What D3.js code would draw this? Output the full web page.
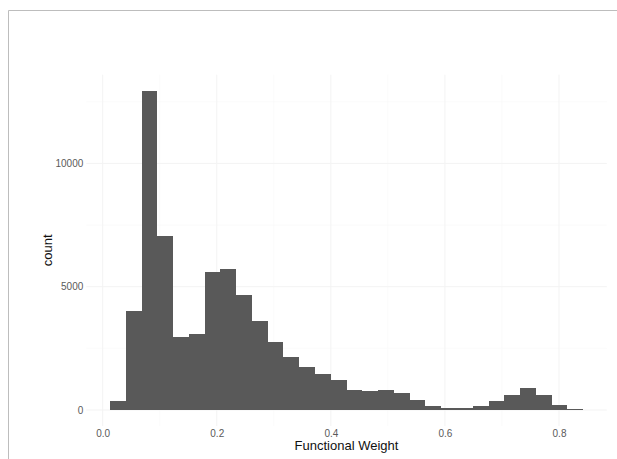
<!DOCTYPE html>
<html lang="en">
<head>
    <meta charset="UTF-8">
    <title>Functional Weight histogram</title>
    <script src="https://d3js.org/d3.v7.min.js"></script>
    <style>
        body { margin: 0; background: #fff; font-family: "Liberation Sans", Arial, sans-serif; }
        svg { display: block; }
        .tick text { fill: #5a5a5a; font-size: 10px; }
        .title { fill: #111; font-size: 13px; }
    </style>
</head>
<body>
    <svg id="chart"></svg>
    <script>
        // histogram: 30 bins, left edge of first bin + bin width
        const binStart = 0.0128;
        const binWidth = 0.02765;
        const counts = [370, 4000, 12950, 7060, 2980, 3090, 5580, 5700, 4680, 3600,
                        2750, 2160, 1730, 1460, 1210, 800, 780, 800, 690, 410,
                        160, 90, 90, 180, 370, 600, 890, 610, 200, 30];
        const xMajor = [0, 0.2, 0.4, 0.6, 0.8];
        const xMinor = [0.1, 0.3, 0.5, 0.7];
        const yMajor = [0, 5000, 10000];
        const yMinor = [2500, 7500, 12500];

        const width = 617, height = 459;
        const svg = d3.select("#chart").attr("width", width).attr("height", height);

        // outer frame (top and left edges only)
        svg.append("path")
            .attr("d", `M8.5,${height}V10.5H${width}`)
            .attr("fill", "none")
            .attr("stroke", "#bdbdbd");

        const bins = counts.map((c, i) => ({
            x0: binStart + i * binWidth,
            x1: binStart + (i + 1) * binWidth,
            count: c
        }));

        const xLo = bins[0].x0, xHi = bins[bins.length - 1].x1;
        const xPad = (xHi - xLo) * 0.05;
        const yMax = d3.max(counts);

        const x = d3.scaleLinear()
            .domain([xLo - xPad, xHi + xPad])
            .range([86.3, 606.8]);
        const y = d3.scaleLinear()
            .domain([-yMax * 0.05, yMax * 1.05])
            .range([426, 74.7]);

        const g = svg.append("g");

        // grid
        g.selectAll(".vminor").data(xMinor).enter().append("line")
            .attr("x1", d => x(d)).attr("x2", d => x(d))
            .attr("y1", y.range()[0]).attr("y2", y.range()[1])
            .attr("stroke", "#f8f8f8").attr("stroke-width", 0.6);
        g.selectAll(".hminor").data(yMinor).enter().append("line")
            .attr("y1", d => y(d)).attr("y2", d => y(d))
            .attr("x1", x.range()[0]).attr("x2", x.range()[1])
            .attr("stroke", "#f8f8f8").attr("stroke-width", 0.6);
        g.selectAll(".vmajor").data(xMajor).enter().append("line")
            .attr("x1", d => x(d)).attr("x2", d => x(d))
            .attr("y1", y.range()[0]).attr("y2", y.range()[1])
            .attr("stroke", "#f3f3f3").attr("stroke-width", 1);
        g.selectAll(".hmajor").data(yMajor).enter().append("line")
            .attr("y1", d => y(d)).attr("y2", d => y(d))
            .attr("x1", x.range()[0]).attr("x2", x.range()[1])
            .attr("stroke", "#f3f3f3").attr("stroke-width", 1);

        // bars
        g.selectAll(".bar").data(bins).enter().append("rect")
            .attr("class", "bar")
            .attr("x", d => x(d.x0))
            .attr("width", d => x(d.x1) - x(d.x0))
            .attr("y", d => y(d.count))
            .attr("height", d => y(0) - y(d.count))
            .attr("fill", "#595959")
            .attr("shape-rendering", "crispEdges");

        // axes (labels only)
        const xAxis = g.append("g")
            .attr("transform", `translate(0,${y.range()[0]})`)
            .call(d3.axisBottom(x).tickValues(xMajor).tickFormat(d3.format(".1f")).tickSize(0).tickPadding(3.5));
        const yAxis = g.append("g")
            .attr("transform", `translate(${x.range()[0]},0)`)
            .call(d3.axisLeft(y).tickValues(yMajor).tickFormat(d3.format("d")).tickSize(0).tickPadding(3));
        [xAxis, yAxis].forEach(a => {
            a.select(".domain").remove();
            a.attr("font-family", null).attr("font-size", null);
        });

        svg.append("text")
            .attr("class", "title")
            .attr("x", 346.5)
            .attr("y", 449.5)
            .attr("text-anchor", "middle")
            .text("Functional Weight");

        svg.append("text")
            .attr("class", "title")
            .attr("font-size", "12.5px")
            .attr("transform", `translate(51.5,${(y.range()[0] + y.range()[1]) / 2}) rotate(-90)`)
            .attr("text-anchor", "middle")
            .text("count");
    </script>
</body>
</html>
